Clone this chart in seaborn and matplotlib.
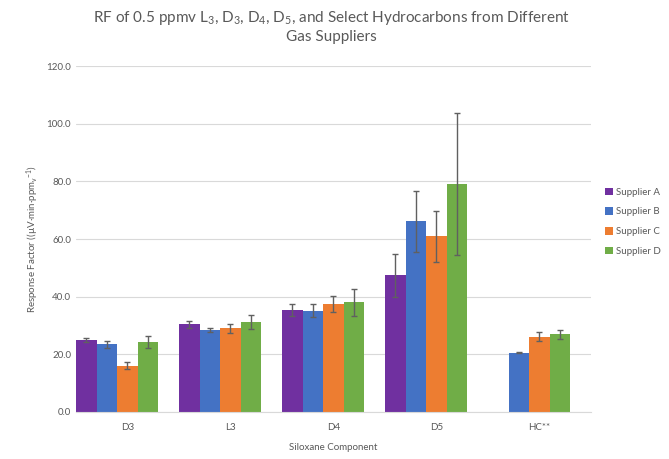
import numpy as np
import pandas as pd
import seaborn as sns
import matplotlib.pyplot as plt

components = ["D3", "L3", "D4", "D5", "HC**"]
suppliers = ["Supplier A", "Supplier B", "Supplier C", "Supplier D"]
colors = ["#7030A0", "#4472C4", "#ED7D31", "#70AD47"]

rf_a = [25.0, 30.4, 35.4, 47.4, np.nan]
rf_b = [23.5, 28.5, 35.1, 66.1, 20.5]
rf_c = [16.0, 29.0, 37.5, 61.0, 26.1]
rf_d = [24.2, 31.3, 38.0, 79.0, 26.9]

err_a = [0.8, 1.2, 2.0, 7.5, np.nan]
err_b = [1.3, 0.8, 2.2, 10.6, 0.2]
err_c = [1.2, 1.5, 2.8, 8.9, 1.5]
err_d = [2.0, 2.5, 4.8, 24.7, 1.6]

rows = []
for sup, vals, errs in zip(suppliers, [rf_a, rf_b, rf_c, rf_d], [err_a, err_b, err_c, err_d]):
    for comp, v, e in zip(components, vals, errs):
        rows.append({"Component": comp, "Supplier": sup, "RF": v, "Err": e})
df = pd.DataFrame(rows)

sns.set_style("white")
plt.rcParams['font.family'] = ['Lato', 'DejaVu Sans']
plt.rcParams['mathtext.default'] = 'regular'

fig, ax = plt.subplots(figsize=(6.69, 4.59), dpi=100)
fig.subplots_adjust(left=0.1136, right=0.8834, top=0.856, bottom=0.1024)

sns.barplot(data=df.dropna(subset=["RF"]), x="Component", y="RF", hue="Supplier",
            order=components, hue_order=suppliers, palette=colors,
            errorbar=None, width=0.8, saturation=1, linewidth=0, ax=ax, zorder=2)

# error bars at each drawn bar
for sup, cont in zip(suppliers, ax.containers):
    for bar in cont:
        cx = bar.get_x() + bar.get_width() / 2
        ci = int(round(cx))
        e = df[(df.Supplier == sup) & (df.Component == components[ci])]["Err"].values[0]
        ax.errorbar(cx, bar.get_height(), yerr=e, fmt="none", ecolor="#606060",
                    elinewidth=1, capsize=2.5, capthick=1, zorder=3)

ax.set_ylim(0, 120)
ax.set_yticks(np.arange(0, 121, 20))
ax.set_yticklabels([f"{v:.1f}" for v in np.arange(0, 121, 20)])
ax.yaxis.grid(True, color="#D9D9D9", linewidth=0.8, zorder=0)
ax.set_axisbelow(True)
for s in ["top", "right", "left"]:
    ax.spines[s].set_visible(False)
ax.spines["bottom"].set_color("#D9D9D9")
ax.set_xlim(-0.4, 4.6)
ax.set_xticks(np.arange(len(components)) + 0.1)
ax.set_xticklabels(components)
ax.tick_params(axis="both", labelsize=7, colors="#595959", length=0)
ax.tick_params(axis="x", pad=8)
ax.set_xlabel("Siloxane Component", fontsize=7, color="#595959", labelpad=8)
ax.set_ylabel(r"Response Factor ((µV·min·ppm$_v$$^{-1}$)", fontsize=7, color="#595959")

fig.suptitle(r"RF of 0.5 ppmv L$_3$, D$_3$, D$_4$, D$_5$, and Select Hydrocarbons from Different" + "\nGas Suppliers",
             fontsize=11, color="#595959", y=0.98, x=0.495, linespacing=1.3)

leg = ax.legend(loc="center left", bbox_to_anchor=(1.01, 0.55), frameon=False,
                fontsize=7, handlelength=0.8, handleheight=0.8, handletextpad=0.3,
                labelspacing=1.1)
for t in leg.get_texts():
    t.set_color("#595959")

fig.savefig("out.png", dpi=100)
